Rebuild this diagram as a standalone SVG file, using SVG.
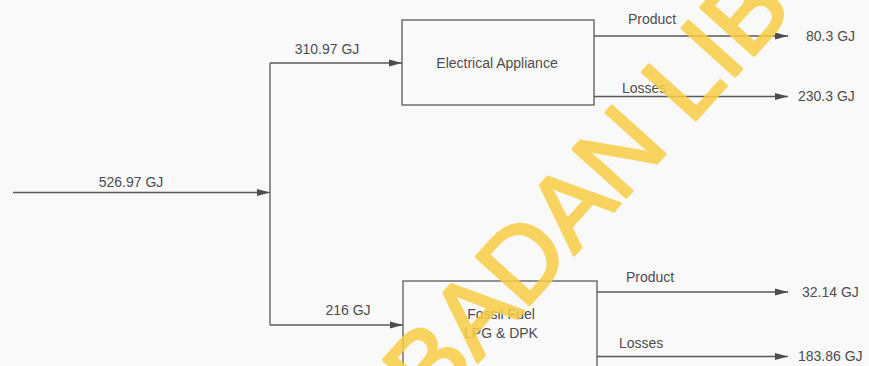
<svg xmlns="http://www.w3.org/2000/svg" width="869" height="366" viewBox="0 0 869 366">
<style>
.t{font-family:"Liberation Sans",Arial,sans-serif;font-size:14px;fill:#4d4d4f}
.box{fill:none;stroke:#5a5a5c;stroke-width:1.3}
.ln{fill:none;stroke:#5a5a5c;stroke-width:1.3}
.wm{font-family:"Liberation Sans",Arial,sans-serif;font-size:104px;fill:#F8CD45;stroke:#F8CD45;stroke-width:3;stroke-linejoin:round;opacity:0.85}
</style>
<defs>
<marker id="ah" markerWidth="13" markerHeight="8" refX="13" refY="4" orient="auto" markerUnits="userSpaceOnUse">
<path d="M0,0.5 L13,4 L0,7.5 Z" fill="#4d4d4f"/>
</marker>
</defs>
<rect x="0" y="0" width="869" height="366" fill="#f9f9f9"/>
<g id="connectors">
<line class="ln" x1="13" y1="192.5" x2="270" y2="192.5" marker-end="url(#ah)"/>
<line class="ln" x1="270" y1="63" x2="270" y2="325"/>
<line class="ln" x1="270" y1="63" x2="402" y2="63" marker-end="url(#ah)"/>
<line class="ln" x1="270" y1="325" x2="403" y2="325" marker-end="url(#ah)"/>
<line class="ln" x1="594" y1="36" x2="788" y2="36" marker-end="url(#ah)"/>
<line class="ln" x1="594" y1="96.5" x2="788" y2="96.5" marker-end="url(#ah)"/>
<line class="ln" x1="597" y1="292" x2="788" y2="292" marker-end="url(#ah)"/>
<line class="ln" x1="597" y1="356.5" x2="788" y2="356.5" marker-end="url(#ah)"/>
<text class="t" x="131" y="187" text-anchor="middle">526.97 GJ</text>
<text class="t" x="327" y="54" text-anchor="middle">310.97 GJ</text>
<text class="t" x="348" y="315" text-anchor="middle">216 GJ</text>
<text class="t" x="628" y="24">Product</text>
<text class="t" x="622" y="93">Losses</text>
<text class="t" x="626" y="282">Product</text>
<text class="t" x="619" y="348">Losses</text>
</g>
<g id="electrical">
<rect class="box" x="402" y="20" width="192" height="85"/>
<text class="t" x="497" y="68" text-anchor="middle">Electrical Appliance</text>
</g>
<g id="fossil">
<rect class="box" x="403" y="281" width="194" height="100"/>
<text class="t" x="501" y="319" text-anchor="middle">Fossil Fuel</text>
<text class="t" x="501" y="338" text-anchor="middle">LPG &amp; DPK</text>
</g>
<g id="outputs">
<text class="t" x="806" y="41">80.3 GJ</text>
<text class="t" x="798" y="101">230.3 GJ</text>
<text class="t" x="802" y="297">32.14 GJ</text>
<text class="t" x="798" y="361">183.86 GJ</text>
</g>
<text class="wm" x="431" y="414" transform="rotate(-48 431 414)">BADAN LIB</text>
</svg>
